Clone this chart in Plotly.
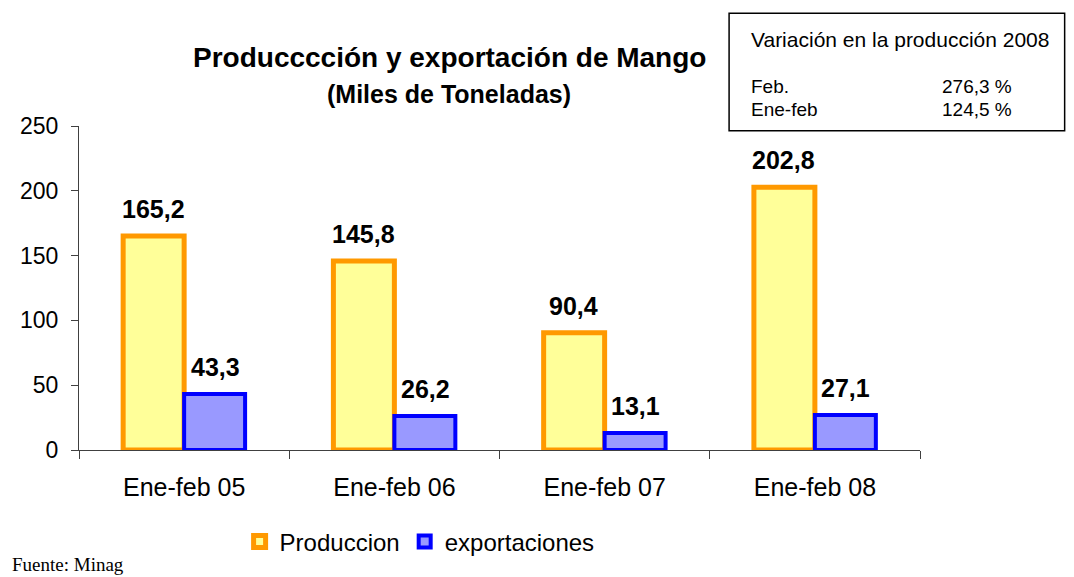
import plotly.graph_objects as go

periodos = ['Ene-feb 05', 'Ene-feb 06', 'Ene-feb 07', 'Ene-feb 08']
produccion = [165.2, 145.8, 90.4, 202.8]
exportaciones = [43.3, 26.2, 13.1, 27.1]
yticks = [0, 50, 100, 150, 200, 250]


def fmt(v):
    return '{:.1f}'.format(v).replace('.', ',')


fig = go.Figure()
fig.add_trace(go.Bar(x=periodos, y=produccion, name='Produccion',
                     marker=dict(color='#FFFF99', line=dict(color='#FF9900', width=5))))
fig.add_trace(go.Bar(x=periodos, y=exportaciones, name='exportaciones',
                     marker=dict(color='#9999FF', line=dict(color='#0000FF', width=4))))

# etiquetas de valores sobre las barras
for k in range(len(periodos)):
    for vals, dx in [(produccion, -31), (exportaciones, 31)]:
        fig.add_annotation(x=periodos[k], y=vals[k], text='<b>' + fmt(vals[k]) + '</b>',
                           xshift=dx, yshift=11, yanchor='bottom', showarrow=False,
                           font=dict(size=25, color='black'))

# titulo
fig.add_annotation(xref='paper', yref='paper', x=0.44, y=1.21, xanchor='center', yanchor='middle',
                   showarrow=False, text='<b>Producccción y exportación de Mango</b>',
                   font=dict(size=28, color='black'))
fig.add_annotation(xref='paper', yref='paper', x=0.44, y=1.10, xanchor='center', yanchor='middle',
                   showarrow=False, text='<b>(Miles de Toneladas)</b>',
                   font=dict(size=25, color='black'))

# recuadro de variacion
fig.add_shape(type='rect', xref='paper', yref='paper', x0=0.773, x1=1.172, y0=0.985, y1=1.348,
              line=dict(color='black', width=1.5), fillcolor='white')
caja = [('Variación en la producción 2008', 0.797, 1.268, 'left', 21),
        ('Feb.', 0.797, 1.122, 'left', 19),
        ('Ene-feb', 0.797, 1.052, 'left', 19),
        ('276,3 %', 1.112, 1.122, 'right', 19),
        ('124,5 %', 1.112, 1.052, 'right', 19)]
for txt, xx, yy, anc, fs in caja:
    fig.add_annotation(xref='paper', yref='paper', x=xx, y=yy, xanchor=anc, yanchor='middle',
                       showarrow=False, text=txt, font=dict(size=fs, color='black'))

# fuente
fig.add_annotation(xref='paper', yref='paper', x=-0.082, y=-0.352, xanchor='left', yanchor='middle',
                   showarrow=False, text='Fuente: Minag',
                   font=dict(size=19, color='black', family='Liberation Serif'))

fig.update_layout(
    width=1066,
    height=569,
    margin=dict(l=65, r=154, t=118, b=123),
    paper_bgcolor='white',
    plot_bgcolor='white',
    font=dict(family='Liberation Sans, Arial', color='black'),
    barmode='group',
    bargap=0.42,
    bargroupgap=0,
    showlegend=True,
    legend=dict(orientation='h', x=0.405, y=-0.284, xanchor='center', yanchor='middle',
                font=dict(size=24), itemwidth=30),
    xaxis=dict(showline=True, linecolor='#404040', linewidth=1, ticks='outside',
               tickson='boundaries', ticklen=8, tickcolor='#404040',
               tickfont=dict(size=25), ticklabelstandoff=15, showgrid=False),
    yaxis=dict(range=[0, 250], tickvals=yticks, showline=True, linecolor='#404040', linewidth=1,
               ticks='outside', ticklen=7, tickcolor='#404040', tickfont=dict(size=23),
               ticklabelstandoff=8, showgrid=False, zeroline=False),
)

fig.write_html("out.html")
